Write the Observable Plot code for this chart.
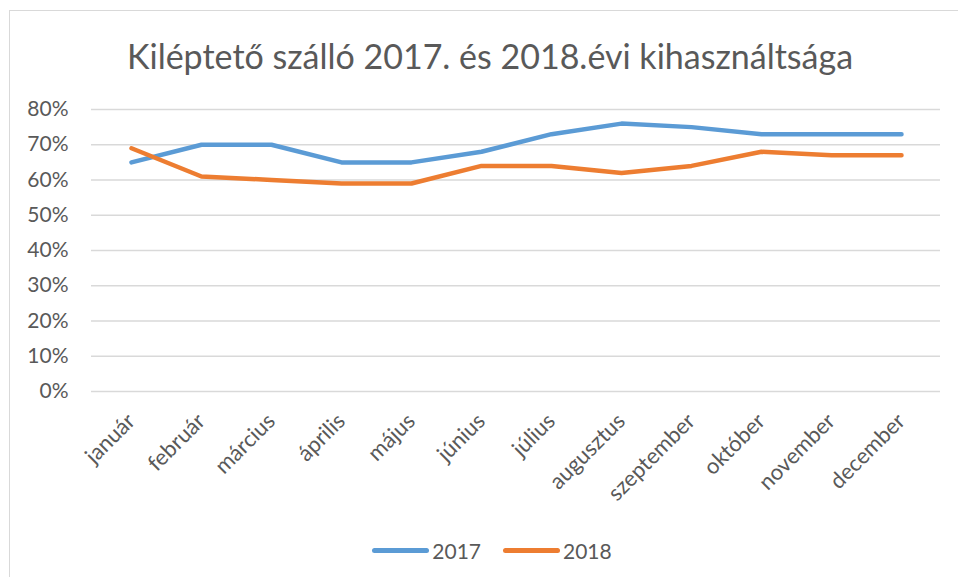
<!DOCTYPE html>
<html>
<head>
<meta charset="utf-8">
<script src="https://cdn.jsdelivr.net/npm/d3@7"></script>
<script src="https://cdn.jsdelivr.net/npm/@observablehq/plot@0.6"></script>
<style>
  html, body { margin: 0; padding: 0; background: #fff; }
  #wrap { position: relative; width: 958px; height: 577px; overflow: hidden; font-family: Lato, "Open Sans", sans-serif; color: #595959; }
  #frame { position: absolute; left: 9px; top: 10px; width: 1000px; height: 600px; border-left: 1.5px solid #d9d9d9; border-top: 1.5px solid #d9d9d9; }
  #title { position: absolute; left: 0; width: 980px; top: 34px; text-align: center; font-size: 34px; line-height: 44px; color: #595959; }
  #chart { position: absolute; left: 0; top: 80px; }
  #legend { position: absolute; top: 531px; left: 0; width: 984px; text-align: center; font-size: 21px; line-height: 28px; }
  .item { display: inline-flex; align-items: center; margin: 0 11px; }
  .sw { display: inline-block; width: 57px; height: 5px; border-radius: 3px; margin-right: 3px; }
</style>
</head>
<body>
<div id="wrap">
  <div id="frame"></div>
  <div id="title">Kiléptető szálló 2017. és 2018.évi kihasználtsága</div>
  <div id="chart"></div>
  <div id="legend"></div>
</div>
<script>
const months = ["január","február","március","április","május","június","július","augusztus","szeptember","október","november","december"];
const series = ["2017", "2018"];
const values2017 = [0.65, 0.70, 0.70, 0.65, 0.65, 0.68, 0.73, 0.76, 0.75, 0.73, 0.73, 0.73];
const values2018 = [0.69, 0.61, 0.60, 0.59, 0.59, 0.64, 0.64, 0.62, 0.64, 0.68, 0.67, 0.67];
const yTicks = [0, 0.1, 0.2, 0.3, 0.4, 0.5, 0.6, 0.7, 0.8];
const colors = ["#5b9bd5", "#ed7d31"];

const rows = [];
months.forEach((m, i) => {
  rows.push({month: m, year: series[0], value: values2017[i]});
  rows.push({month: m, year: series[1], value: values2018[i]});
});

const chart = Plot.plot({
  width: 958,
  height: 440,
  marginLeft: 91,
  marginRight: 18,
  marginTop: 29,
  marginBottom: 129,
  style: {fontFamily: "Lato, 'Open Sans', sans-serif", fontSize: "21px", color: "#595959", background: "transparent"},
  x: {type: "point", domain: months, padding: 0.5, label: null},
  y: {domain: [0, 0.8], label: null},
  color: {domain: series, range: colors},
  marks: [
    Plot.gridY(yTicks, {stroke: "#d9d9d9", strokeOpacity: 1, strokeWidth: 1.3}),
    Plot.axisY(yTicks, {tickFormat: d3.format(".0%"), tickSize: 0, tickPadding: 23, fontSize: 21, fill: "#595959"}),
    Plot.axisX({tickRotate: -45, tickSize: 0, tickPadding: 26, fontSize: 22, fill: "#595959", label: null}),
    Plot.line(rows, {x: "month", y: "value", stroke: "year", z: "year", strokeWidth: 4.5, strokeLinecap: "round", strokeLinejoin: "round"})
  ]
});
document.getElementById("chart").appendChild(chart);

const legend = document.getElementById("legend");
series.forEach((s, i) => {
  const item = document.createElement("span");
  item.className = "item";
  const sw = document.createElement("span");
  sw.className = "sw";
  sw.style.background = colors[i];
  item.appendChild(sw);
  item.appendChild(document.createTextNode(s));
  legend.appendChild(item);
});
</script>
</body>
</html>
